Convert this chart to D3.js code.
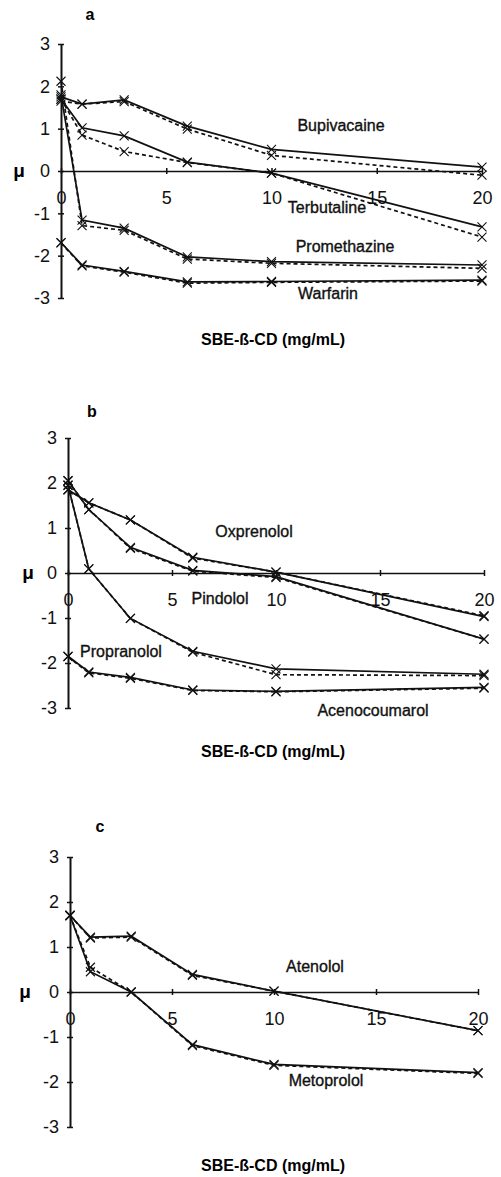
<!DOCTYPE html>
<html>
<head>
<meta charset="utf-8">
<script src="https://cdn.jsdelivr.net/npm/d3@7"></script>
<style>
  body { margin: 0; background: #fff; }
  svg { display: block; font-family: "Liberation Sans", Arial, sans-serif; }
  .line { fill: none; stroke: #111; stroke-width: 1.7; }
  .dash { stroke-dasharray: 4,3; }
  .mark { fill: none; stroke: #111; stroke-width: 1.1; }
</style>
</head>
<body>
<svg id="chart" width="501" height="1177"></svg>
<script>
// SBE-ß-CD concentrations (mg/mL)
var conc = [0, 1, 3, 6, 10, 20];
var xTicks = [0, 5, 10, 15, 20];
var yTicks = [-3, -2, -1, 0, 1, 2, 3];
var xTitle = "SBE-ß-CD (mg/mL)";

// panel a
var bupivacaineSolid  = [1.75, 1.58, 1.68, 1.06, 0.51, 0.09];
var bupivacaineDashed = [1.65, 1.58, 1.64, 0.99, 0.37, -0.10];
var terbutalineSolid  = [1.70, 1.02, 0.83, 0.21, -0.05, -1.32];
var terbutalineDashed = [1.70, 0.85, 0.46, 0.20, -0.05, -1.56];
var promethazineSolid  = [1.80, -1.16, -1.35, -2.03, -2.14, -2.22];
var promethazineDashed = [2.12, -1.29, -1.40, -2.08, -2.18, -2.30];
var warfarinSolid  = [-1.69, -2.22, -2.37, -2.62, -2.61, -2.58];
var warfarinDashed = [-1.70, -2.24, -2.39, -2.65, -2.63, -2.60];

// panel b
var oxprenololSolid  = [1.85, 1.56, 1.18, 0.35, 0.02, -0.97];
var oxprenololDashed = [1.85, 1.56, 1.18, 0.33, 0.02, -0.95];
var pindololSolid  = [2.05, 1.41, 0.57, 0.06, -0.08, -1.47];
var pindololDashed = [2.05, 1.41, 0.55, 0.04, -0.10, -1.47];
var propranololSolid  = [1.95, 0.09, -1.01, -1.74, -2.13, -2.25];
var propranololDashed = [1.95, 0.09, -1.01, -1.76, -2.26, -2.28];
var acenocoumarolSolid  = [-1.85, -2.20, -2.32, -2.60, -2.63, -2.54];
var acenocoumarolDashed = [-1.86, -2.22, -2.34, -2.61, -2.64, -2.56];

// panel c
var atenololSolid  = [1.70, 1.22, 1.24, 0.39, 0.02, -0.86];
var atenololDashed = [1.70, 1.20, 1.22, 0.37, 0.02, -0.86];
var metoprololSolid  = [1.70, 0.45, 0.00, -1.17, -1.61, -1.79];
var metoprololDashed = [1.70, 0.55, 0.00, -1.19, -1.63, -1.81];

var panels = [
  { letter: "a", x0: 61, x1: 482, yTop: 44, yBot: 298, letterX: 90, letterY: 20,
    muX: 19, muY: 177, titleY: 345,
    series: [bupivacaineSolid, bupivacaineDashed, terbutalineSolid, terbutalineDashed,
             promethazineSolid, promethazineDashed, warfarinSolid, warfarinDashed],
    labels: [["Bupivacaine", 341, 131], ["Terbutaline", 327, 213],
             ["Promethazine", 345, 252], ["Warfarin", 328, 299]] },
  { letter: "b", x0: 68, x1: 484, yTop: 438, yBot: 708, letterX: 92, letterY: 417,
    muX: 28, muY: 579, titleY: 757,
    series: [oxprenololSolid, oxprenololDashed, pindololSolid, pindololDashed,
             propranololSolid, propranololDashed, acenocoumarolSolid, acenocoumarolDashed],
    labels: [["Oxprenolol", 254, 537], ["Pindolol", 220, 603.5],
             ["Propranolol", 121, 657], ["Acenocoumarol", 373, 716]] },
  { letter: "c", x0: 70, x1: 478, yTop: 857, yBot: 1127, letterX: 100, letterY: 832,
    muX: 25, muY: 998, titleY: 1171,
    series: [atenololSolid, atenololDashed, metoprololSolid, metoprololDashed],
    labels: [["Atenolol", 315, 971.5], ["Metoprolol", 326, 1086]] }
];

var svg = d3.select("#chart");

var drawPanel = function(p) {
  var x = d3.scaleLinear().domain([0, 20]).range([p.x0, p.x1]);
  var y = d3.scaleLinear().domain([-3, 3]).range([p.yBot, p.yTop]);
  var g = svg.append("g");

  // y axis with crossing ticks
  var yAxis = g.append("g")
    .attr("transform", "translate(" + p.x0 + ",0)")
    .call(d3.axisLeft(y).tickValues(yTicks).tickSize(0).tickPadding(11)
      .tickFormat(function(d){ return String(d); }));
  yAxis.select(".domain").attr("stroke", "#111").attr("stroke-width", 2);
  yAxis.selectAll(".tick line").attr("x1", -3).attr("x2", 3)
    .attr("stroke", "#111").attr("stroke-width", 1.5);
  yAxis.selectAll("text").attr("font-size", 18).attr("fill", "#111");

  // x axis along mu = 0
  var xAxis = g.append("g")
    .attr("transform", "translate(0," + y(0) + ")")
    .call(d3.axisBottom(x).tickValues(xTicks).tickSize(0).tickPadding(20)
      .tickFormat(function(d){ return String(d); }));
  xAxis.select(".domain").attr("stroke", "#111").attr("stroke-width", 1.4);
  xAxis.selectAll(".tick line").attr("y1", -3).attr("y2", 3)
    .attr("stroke", "#111").attr("stroke-width", 1.5);
  xAxis.selectAll("text").attr("font-size", 18).attr("fill", "#111");

  var line = d3.line()
    .x(function(d, i){ return x(conc[i]); })
    .y(function(d){ return y(d); });

  p.series.forEach(function(s, k) {
    g.append("path")
      .attr("class", k % 2 ? "line dash" : "line")
      .attr("d", line(s));
    g.selectAll(null).data(s).enter().append("path")
      .attr("class", "mark")
      .attr("transform", function(d, i){ return "translate(" + x(conc[i]) + "," + y(d) + ")"; })
      .attr("d", "M-4.5,-4.5L4.5,4.5M-4.5,4.5L4.5,-4.5");
  });

  g.selectAll(null).data(p.labels).enter().append("text")
    .attr("x", function(d){ return d[1]; })
    .attr("y", function(d){ return d[2]; })
    .attr("text-anchor", "middle")
    .attr("font-size", 16)
    .attr("fill", "#111")
    .attr("stroke", "#111").attr("stroke-width", 0.35)
    .text(function(d){ return d[0]; });

  g.append("text").attr("x", p.letterX).attr("y", p.letterY)
    .attr("text-anchor", "middle").attr("font-size", 16).attr("font-weight", "bold")
    .text(p.letter);
  g.append("text").attr("x", p.muX).attr("y", p.muY)
    .attr("text-anchor", "middle").attr("font-size", 19).attr("font-weight", "bold")
    .text("μ");
  g.append("text").attr("x", 273).attr("y", p.titleY)
    .attr("text-anchor", "middle").attr("font-size", 16).attr("font-weight", "bold")
    .text(xTitle);
};

panels.forEach(drawPanel);
</script>
</body>
</html>
